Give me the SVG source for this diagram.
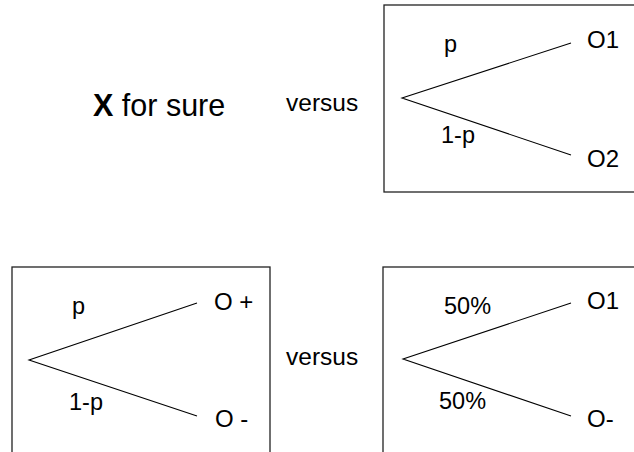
<svg xmlns="http://www.w3.org/2000/svg" width="634" height="452" viewBox="0 0 634 452">
<style>
text{font-family:"Liberation Sans",Arial,sans-serif;fill:#000}
.box{fill:none;stroke:#222;stroke-width:1.3}
.edge{fill:none;stroke:#000;stroke-width:1.1}
.lbl{font-size:23.5px}
.out{font-size:24px}
.vs{font-size:24.5px}
</style>
<rect width="634" height="452" fill="#fff"/>
<g id="sure"><text x="93" y="116" font-size="30.5"><tspan font-weight="bold">X</tspan> for sure</text></g>
<g id="versus1"><text class="vs" x="286" y="111">versus</text></g>
<g id="versus2"><text class="vs" x="286" y="365">versus</text></g>
<g id="lottery1">
<rect class="box" x="384" y="5" width="270" height="187"/>
<text class="lbl" x="444" y="52">p</text>
<text class="lbl" x="441" y="143">1-p</text>
<text class="out" x="587" y="48">O1</text>
<text class="out" x="587" y="167">O2</text>
</g>
<g id="lottery2">
<rect class="box" x="12" y="267" width="258" height="200"/>
<text class="lbl" x="72" y="314">p</text>
<text class="lbl" x="69" y="410">1-p</text>
<text class="out" x="214" y="310">O +</text>
<text class="out" x="215" y="427">O -</text>
</g>
<g id="lottery3">
<rect class="box" x="383" y="267" width="270" height="200"/>
<text class="lbl" x="444" y="314">50%</text>
<text class="lbl" x="439" y="409">50%</text>
<text class="out" x="587" y="309">O1</text>
<text class="out" x="587" y="427">O-</text>
</g>
<g id="connectors">
<path class="edge" d="M571,43 L402,98 L571,155"/>
<path class="edge" d="M197,303 L29,360 L197,416"/>
<path class="edge" d="M571,303 L403,359 L571,416"/>
</g>
</svg>
